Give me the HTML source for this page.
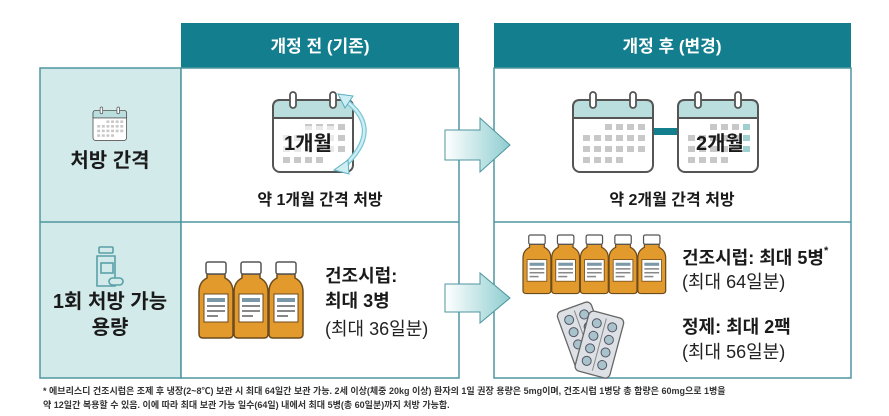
<!DOCTYPE html>
<html><head><meta charset="utf-8"><style>
body{margin:0;background:#fff;}
svg{display:block;font-family:"Liberation Sans","Noto Sans CJK KR",sans-serif;}
.b{font-weight:bold;fill:#1a1a1a;}
.r{fill:#222;}
</style></head><body>
<svg width="889" height="416" viewBox="0 0 889 416">
<defs>
<linearGradient id="ag" x1="0" x2="1"><stop offset="0" stop-color="#fff"/><stop offset="1" stop-color="#8fcdd0"/></linearGradient>
<g id="bot">
<path d="M8,12 L26,12 L26,16 Q34,20 34,30 L34,72 Q34,76 30,76 L4,76 Q0,76 0,72 L0,30 Q0,20 8,16 Z" fill="#e39a2d" stroke="#6b4a1e" stroke-width="1.5"/>
<rect x="7" y="0" width="20" height="12" rx="2" fill="#fff" stroke="#555" stroke-width="1.5"/>
<rect x="5" y="32" width="24" height="28" fill="#fff" stroke="#6b4a1e" stroke-width="1"/>
<rect x="8" y="36" width="18" height="4" fill="#7a98a8"/>
<rect x="8" y="43" width="18" height="2" fill="#888"/>
<rect x="8" y="48" width="18" height="2" fill="#888"/>
<rect x="8" y="53" width="11" height="2" fill="#888"/>
</g>
<g id="cal">
<rect x="0" y="8" width="80" height="72" rx="7" fill="#fff" stroke="#555" stroke-width="2"/>
<path d="M0,26 L0,15 Q0,8 7,8 L73,8 Q80,8 80,15 L80,26 Z" fill="#b9dedd" stroke="#555" stroke-width="2"/>
<rect x="17" y="0" width="6" height="16" rx="3" fill="#fff" stroke="#555" stroke-width="1.8"/>
<rect x="57" y="0" width="6" height="16" rx="3" fill="#fff" stroke="#555" stroke-width="1.8"/>
<g fill="#c8c8c8">
<rect x="32" y="32" width="7" height="6"/><rect x="43" y="32" width="7" height="6"/><rect x="54" y="32" width="7" height="6"/><rect x="65" y="32" width="7" height="6"/>
<rect x="10" y="43" width="7" height="6"/><rect x="21" y="43" width="7" height="6"/><rect x="32" y="43" width="7" height="6"/><rect x="43" y="43" width="7" height="6"/><rect x="54" y="43" width="7" height="6"/><rect x="65" y="43" width="7" height="6"/>
<rect x="10" y="54" width="7" height="6"/><rect x="21" y="54" width="7" height="6"/><rect x="32" y="54" width="7" height="6"/><rect x="43" y="54" width="7" height="6"/><rect x="54" y="54" width="7" height="6"/><rect x="65" y="54" width="7" height="6"/>
<rect x="10" y="65" width="7" height="6"/><rect x="21" y="65" width="7" height="6"/><rect x="32" y="65" width="7" height="6"/><rect x="43" y="65" width="7" height="6"/>
</g>
</g>
<g id="blis">
<rect x="0" y="0" width="36" height="62" rx="5" fill="#dde0e4" stroke="#666" stroke-width="1.3"/>
<line x1="18" y1="4" x2="18" y2="58" stroke="#888"/>
<g fill="#a9c3cc" stroke="#556" stroke-width="1">
<circle cx="10" cy="11" r="4.5"/><circle cx="26" cy="11" r="4.5"/>
<circle cx="10" cy="24" r="4.5"/><circle cx="26" cy="24" r="4.5"/>
<circle cx="10" cy="37" r="4.5"/><circle cx="26" cy="37" r="4.5"/>
<circle cx="10" cy="50" r="4.5"/><circle cx="26" cy="50" r="4.5"/>
</g>
</g>
</defs>

<rect x="181" y="23" width="278" height="45" fill="#137e8e"/>
<text x="320" y="52" text-anchor="middle" font-size="17" font-weight="bold" fill="#fff">개정 전 (기존)</text>
<rect x="40" y="68" width="141" height="310" fill="#d2ebea" stroke="#4f96a0" stroke-width="1.5"/>
<rect x="181" y="68" width="278" height="310" fill="#fff" stroke="#4f96a0" stroke-width="1.5"/>
<line x1="40" y1="222" x2="459" y2="222" stroke="#4f96a0" stroke-width="1.5"/>

<rect x="494" y="23" width="357" height="45" fill="#137e8e"/>
<text x="672" y="52" text-anchor="middle" font-size="17" font-weight="bold" fill="#fff">개정 후 (변경)</text>
<rect x="494" y="68" width="357" height="310" fill="#fff" stroke="#4f96a0" stroke-width="1.5"/>
<line x1="494" y1="222" x2="851" y2="222" stroke="#4f96a0" stroke-width="1.5"/>

<path d="M445,130 L480,130 L480,118 L510,145 L480,172 L480,160 L445,160 Z" fill="url(#ag)" stroke="#4f96a0" stroke-width="1"/>
<path d="M445,284 L480,284 L480,273 L510,298 L480,323 L480,312 L445,312 Z" fill="url(#ag)" stroke="#4f96a0" stroke-width="1"/>

<g transform="translate(93,107) scale(0.42)"><use href="#cal"/></g>
<text x="110" y="167" text-anchor="middle" font-size="20" class="b">처방 간격</text>
<g fill="none" stroke="#5aa0a8" stroke-width="1.6">
<rect x="99" y="247" width="14" height="6" rx="1"/>
<path d="M97,256 h18 v30 h-18 z"/>
<rect x="101" y="263" width="12" height="10"/>
<rect x="109" y="278" width="14" height="7" rx="3.5" fill="#d2ebea"/>
</g>
<text x="110" y="308" text-anchor="middle" font-size="20" class="b">1회 처방 가능</text>
<text x="110" y="334" text-anchor="middle" font-size="20" class="b">용량</text>

<g transform="translate(273,92)"><use href="#cal"/></g>
<rect x="277" y="126" width="60" height="28" fill="#fff" opacity="0.6"/>
<text x="308" y="150" text-anchor="middle" font-size="20" class="b">1개월</text>
<path d="M345,100 Q385,130 342,168" fill="none" stroke="#7cc7d6" stroke-width="5"/>
<path d="M345,100 Q385,130 342,168" fill="none" stroke="#cdeef2" stroke-width="2.5"/>
<path d="M338,94 L353,96 L345,108 Z" fill="#cdeef2" stroke="#5aaec0"/>
<path d="M334,170 L348,160 L349,174 Z" fill="#cdeef2" stroke="#5aaec0"/>
<text x="320" y="205" text-anchor="middle" font-size="16" class="b">약 1개월 간격 처방</text>

<g transform="translate(199,262)"><use href="#bot"/></g>
<g transform="translate(234,262)"><use href="#bot"/></g>
<g transform="translate(269,262)"><use href="#bot"/></g>
<text x="325" y="282" font-size="18" class="b">건조시럽:</text>
<text x="325" y="307" font-size="18" class="b">최대 3병</text>
<text x="325" y="335" font-size="18" class="r">(최대 36일분)</text>

<rect x="652" y="128" width="28" height="7" fill="#137e8e"/>
<g transform="translate(573,92)"><use href="#cal"/></g>
<g transform="translate(678,92)"><use href="#cal"/></g>
<g fill="#9fd0cf"><rect x="743" y="124" width="7" height="6"/><rect x="743" y="135" width="7" height="6"/><rect x="743" y="146" width="7" height="6"/></g>
<text x="720" y="150" text-anchor="middle" font-size="20" class="b">2개월</text>
<text x="672" y="205" text-anchor="middle" font-size="16" class="b">약 2개월 간격 처방</text>

<g transform="translate(523,235) scale(0.82,0.77)">
<use href="#bot"/><g transform="translate(35,0)"><use href="#bot"/></g><g transform="translate(70,0)"><use href="#bot"/></g><g transform="translate(105,0)"><use href="#bot"/></g><g transform="translate(140,0)"><use href="#bot"/></g>
</g>
<g transform="translate(556,313) rotate(-20)"><use href="#blis"/></g>
<g transform="translate(590,310) rotate(15)"><use href="#blis"/></g>
<text x="682" y="264" font-size="18" class="b">건조시럽: 최대 5병</text>
<text x="824" y="254" font-size="11" class="b">*</text>
<text x="682" y="288" font-size="18" class="r">(최대 64일분)</text>
<text x="682" y="333" font-size="18" class="b">정제: 최대 2팩</text>
<text x="682" y="358" font-size="18" class="r">(최대 56일분)</text>

<text x="43" y="394" font-size="9" fill="#333" font-weight="bold">* 에브리스디 건조시럽은 조제 후 냉장(2~8℃) 보관 시 최대 64일간 보관 가능. 2세 이상(체중 20kg 이상) 환자의 1일 권장 용량은 5mg이며, 건조시럽 1병당 총 함량은 60mg으로 1병을</text>
<text x="43" y="408" font-size="9" fill="#333" font-weight="bold">약 12일간 복용할 수 있음. 이에 따라 최대 보관 가능 일수(64일) 내에서 최대 5병(총 60일분)까지 처방 가능함.</text>
</svg>
</body></html>
